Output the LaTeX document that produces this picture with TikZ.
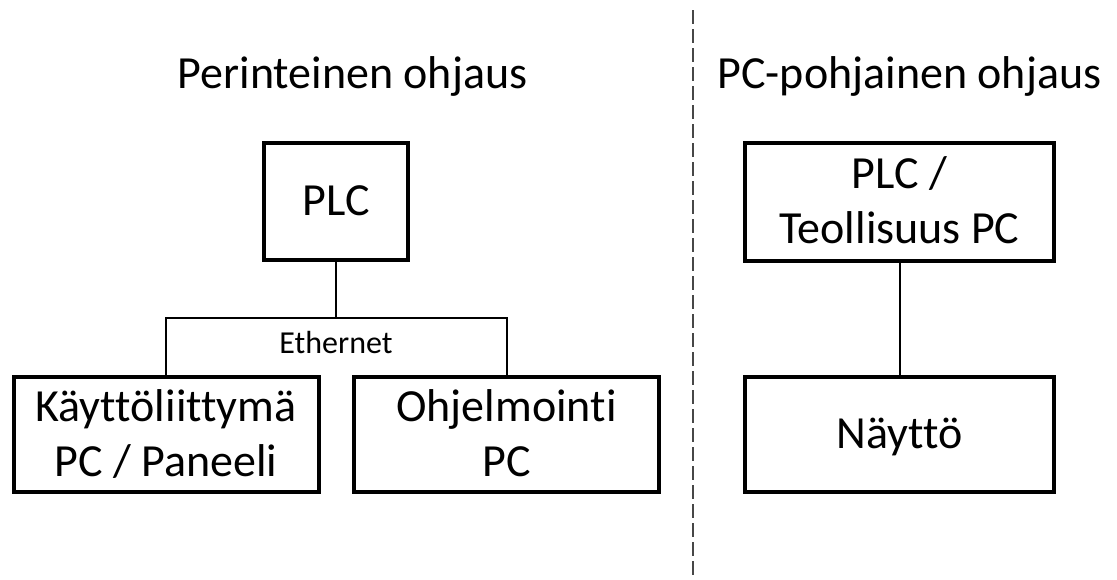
\documentclass[tikz,border=0pt]{standalone}
\usepackage{fontspec}
\setmainfont{Carlito}[Ligatures=NoCommon]
\newcommand{\mainsize}{\fontsize{34.5pt}{41.25pt}\selectfont}
\newcommand{\ethsize}{\fontsize{24pt}{29pt}\selectfont}
% fixed strut so that the caps sit centred in every box
\newcommand{\boxtext}[1]{\rule{0pt}{30pt}#1\rule[-9pt]{0pt}{9pt}}
\begin{document}
\begin{tikzpicture}[x=0.75pt,y=-0.75pt,
  unit/.style={draw=black, line width=3pt, inner sep=0pt, align=center,
               font=\mainsize, text=black},
  heading/.style={anchor=base, inner sep=0pt, font=\mainsize, text=black},
  link/.style={draw=black, line width=1.5pt},
  divider/.style={draw=black!72, line width=1.6pt, dash pattern=on 10.5pt off 3.75pt}]
\useasboundingbox (0,0) rectangle (1117,579);

% section headings
\node[heading] (ltitle) at (352.5,88) {Perinteinen ohjaus};
\node[heading] (rtitle) at (909.5,88) {PC-pohjainen ohjaus};

% divider between the two set-ups
\coordinate (dtop) at (693,10);
\coordinate (dbot) at (693,579);
\draw[divider] (dtop) -- (dbot);

% traditional control
\node[unit, minimum width=108pt, minimum height=87.75pt] (plc) at (336,201.5) {\boxtext{PLC}};
\node[unit, minimum width=228.75pt, minimum height=86.25pt] (ui) at (166,434.5)
  {\boxtext{Käyttöliittymä\\PC / Paneeli}};
\node[unit, minimum width=228.75pt, minimum height=86.25pt] (prog) at (506.5,434.5)
  {\boxtext{Ohjelmointi\\PC}};
\coordinate (bus) at (336,318);
\draw[link] (plc.south) -- (bus);
\draw[link] (ui.north) |- (bus) -| (prog.north);
\node[anchor=base, inner sep=0pt, font=\ethsize] (eth) at (336,353) {Ethernet};

% PC-based control
\node[unit, minimum width=231.75pt, minimum height=88.5pt] (ipc) at (899.5,202)
  {\boxtext{PLC /\\Teollisuus PC}};
\node[unit, minimum width=231.75pt, minimum height=86.25pt] (disp) at (899.5,434.5)
  {\boxtext{Näyttö}};
\draw[link] (ipc.south) -- (disp.north);
\end{tikzpicture}
\end{document}
